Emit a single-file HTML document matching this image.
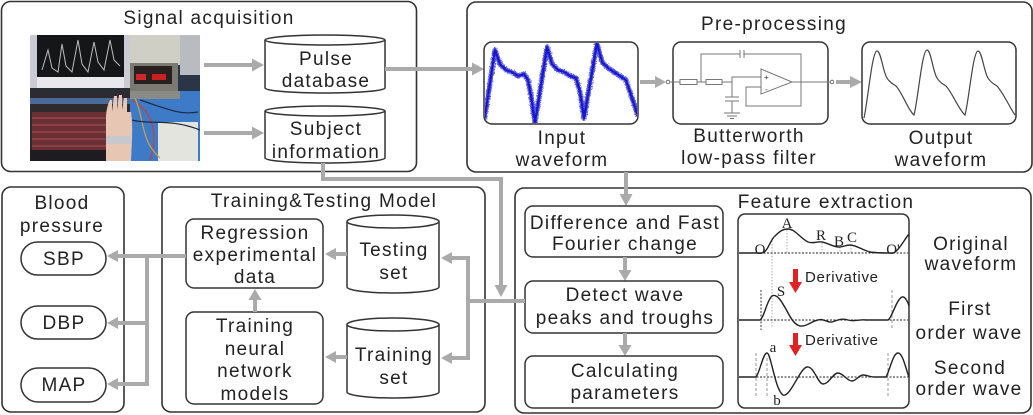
<!DOCTYPE html>
<html><head><meta charset="utf-8"><style>
html,body{margin:0;padding:0;background:#fff;}
svg{display:block;}
.t{font-family:"Liberation Sans",Arial,sans-serif;font-size:19px;letter-spacing:1.3px;fill:#222;text-anchor:middle;}
.s{font-family:"Liberation Serif","Times New Roman",serif;font-size:15px;fill:#222;text-anchor:middle;}
.d{font-family:"Liberation Sans",Arial,sans-serif;font-size:15px;letter-spacing:0.7px;fill:#222;}
.box{fill:none;stroke:#333;stroke-width:1.6;}
.ib{fill:#fff;stroke:#333;stroke-width:1.5;}
.g{stroke:#aaa;stroke-width:4;fill:none;}
.ga{fill:#aaa;}
.c{stroke:#777;stroke-width:1;fill:none;}
</style></head><body>
<svg width="1033" height="415" viewBox="0 0 1033 415" xmlns="http://www.w3.org/2000/svg">
<defs>
<filter id="noise" filterUnits="userSpaceOnUse" x="480" y="36" width="165" height="95">
<feTurbulence type="fractalNoise" baseFrequency="0.9" numOctaves="2" seed="3" result="n"/>
<feDisplacementMap in="SourceGraphic" in2="n" scale="4" xChannelSelector="R" yChannelSelector="G"/>
</filter>
<filter id="noise2" filterUnits="userSpaceOnUse" x="480" y="36" width="165" height="95">
<feTurbulence type="fractalNoise" baseFrequency="1.2" numOctaves="1" seed="7" result="n"/>
<feDisplacementMap in="SourceGraphic" in2="n" scale="3" xChannelSelector="R" yChannelSelector="G"/>
</filter>
<clipPath id="inclip"><rect x="485" y="43" width="152" height="80" rx="7"/></clipPath>
<clipPath id="phclip"><rect x="30" y="35" width="170" height="126"/></clipPath>
</defs>

<!-- ===== Main boxes ===== -->
<rect class="box" x="1.5" y="1.5" width="415" height="170" rx="9"/>
<rect class="box" x="467" y="2" width="565" height="170" rx="9"/>
<rect class="box" x="2" y="187" width="122" height="225" rx="9"/>
<rect class="box" x="162" y="187" width="323" height="225" rx="9"/>
<rect class="box" x="515" y="188" width="516" height="225" rx="9"/>

<!-- ===== Signal acquisition ===== -->
<text class="t" x="209" y="24">Signal acquisition</text>

<!-- photo -->
<g clip-path="url(#phclip)">
<rect x="30" y="35" width="170" height="126" fill="#2b3548"/>
<rect x="30" y="35" width="100" height="62" fill="#c9ccd4"/>
<rect x="37" y="35" width="87" height="42" fill="#151618"/>
<polyline points="42,70 48,50 52,68 58,72 62,44 66,66 72,72 78,40 82,64 88,72 94,42 98,62 104,70 110,40 114,60 120,66" fill="none" stroke="#bcbcbc" stroke-width="1"/>
<rect x="37" y="77" width="87" height="11" fill="#e8e8ec"/>
<rect x="30" y="88" width="100" height="7" fill="#2a2c34"/>
<rect x="30" y="95" width="102" height="66" fill="#2e2a2e"/>
<rect x="30" y="98" width="100" height="6" fill="#4a6a9a"/>
<rect x="32" y="112" width="74" height="38" fill="#6a3036"/>
<g stroke="#b05050" stroke-width="1">
<line x1="32" y1="118" x2="106" y2="118"/><line x1="32" y1="125" x2="106" y2="125"/>
<line x1="32" y1="132" x2="106" y2="132"/><line x1="32" y1="139" x2="106" y2="139"/>
<line x1="32" y1="146" x2="106" y2="146"/>
</g>
<rect x="30" y="150" width="76" height="11" fill="#1e1c20"/>
<rect x="130" y="35" width="50" height="30" fill="#cfcfc6"/>
<rect x="130" y="63" width="48" height="28" fill="#7a7a72"/>
<rect x="134" y="66" width="38" height="18" fill="#2a2020"/>
<rect x="136" y="74" width="10" height="6" fill="#d02828"/>
<rect x="152" y="74" width="14" height="6" fill="#c82020"/>
<rect x="180" y="35" width="20" height="40" fill="#b8bcc0"/>
<rect x="130" y="91" width="70" height="70" fill="#3d7ac8"/>
<rect x="130" y="91" width="50" height="8" fill="#8a8a86"/>
<rect x="158" y="122" width="40" height="39" fill="#e4e4de"/>
<g stroke-width="1.2" fill="none">
<path d="M132,100 C150,110 160,130 150,160" stroke="#c84030"/>
<path d="M135,98 C145,120 140,140 160,158" stroke="#d0a040"/>
<path d="M140,100 C170,110 180,115 198,112" stroke="#202a40"/>
<path d="M132,120 C150,125 170,118 200,130" stroke="#202a40"/>
</g>
<path d="M106,161 L106,118 C106,110 108,104 110,100 L112,100 L112,112 L114,96 L117,96 L117,110 L119,95 L122,95 L122,110 L124,98 L127,98 L127,112 L131,112 C133,125 132,140 131,161 Z" fill="#e8c6b4"/>
<rect x="106" y="136" width="25" height="8" fill="#c8c8cc"/>
</g>

<!-- arrows from photo -->
<line class="g" x1="204" y1="65" x2="252" y2="65"/>
<polygon class="ga" points="264,65 252,58.5 252,71.5"/>
<line class="g" x1="204" y1="133" x2="252" y2="133"/>
<polygon class="ga" points="264,133 252,126.5 252,139.5"/>

<!-- cylinders -->
<path class="ib" d="M265,40 L265,88 A60,5 0 0 0 385,88 L385,40"/>
<ellipse class="ib" cx="325" cy="40" rx="60" ry="5"/>
<text class="t" x="326" y="65">Pulse</text>
<text class="t" x="326" y="87">database</text>

<path class="ib" d="M265,111 L265,158 A60,5 0 0 0 385,158 L385,111"/>
<ellipse class="ib" cx="325" cy="111" rx="60" ry="5"/>
<text class="t" x="326" y="135">Subject</text>
<text class="t" x="326" y="158">information</text>

<!-- pulse db -> input -->
<line class="g" x1="385" y1="69" x2="472" y2="69"/>
<polygon class="ga" points="484,69 472,62.5 472,75.5"/>

<!-- subject info -> down connector -->
<polyline class="g" points="323,163 323,179 501,179 501,285"/>
<polygon class="ga" points="501,297 494.5,285 507.5,285"/>

<!-- ===== Pre-processing ===== -->
<text class="t" x="774" y="30">Pre-processing</text>

<rect class="ib" x="484" y="42" width="154" height="82" rx="8"/>
<g clip-path="url(#inclip)">
<g filter="url(#noise)">
<path d="M484,122 L495,50 L500,64 L506,70 L512,72 L518,76 L524,74 L528,80 L531,96 L535,123 L547,47 L552,64 L558,70 L564,72 L570,76 L576,78 L580,92 L584,118 L597,43 L602,62 L608,68 L614,72 L620,76 L626,80 L632,98 L638,116" fill="none" stroke="#5a5ae6" stroke-width="5" stroke-linejoin="round"/>
</g>
<g filter="url(#noise2)">
<path d="M484,122 L495,50 L500,64 L506,70 L512,72 L518,76 L524,74 L528,80 L531,96 L535,123 L547,47 L552,64 L558,70 L564,72 L570,76 L576,78 L580,92 L584,118 L597,43 L602,62 L608,68 L614,72 L620,76 L626,80 L632,98 L638,116" fill="none" stroke="#1414c8" stroke-width="2.2" stroke-linejoin="round"/>
</g>
</g>
<text class="t" x="562" y="144">Input</text>
<text class="t" x="562" y="166">waveform</text>

<line class="g" x1="640" y1="82" x2="655" y2="82"/>
<polygon class="ga" points="666,82 655,76 655,88"/>

<rect class="ib" x="673" y="42" width="155" height="82" rx="8"/>
<!-- circuit -->
<circle cx="668" cy="82" r="1.8" fill="#fff" stroke="#555" stroke-width="0.8"/>
<line class="c" x1="670" y1="82" x2="680" y2="82"/>
<rect class="c" x="680" y="79.5" width="17" height="5" fill="#fff"/>
<line class="c" x1="697" y1="82" x2="706" y2="82"/>
<rect class="c" x="706" y="79.5" width="16" height="5" fill="#fff"/>
<polyline class="c" points="722,82 732,82 732,77 761,77"/>
<line class="c" x1="732" y1="77" x2="732" y2="97"/>
<line class="c" x1="725" y1="97" x2="739" y2="97" stroke-width="1.6"/>
<line class="c" x1="725" y1="101" x2="739" y2="101" stroke-width="1.6"/>
<line class="c" x1="732" y1="101" x2="732" y2="113"/>
<line class="c" x1="724" y1="113" x2="740" y2="113"/>
<line class="c" x1="727" y1="116" x2="737" y2="116"/>
<line class="c" x1="730" y1="118.5" x2="734" y2="118.5"/>
<polyline class="c" points="701,82 701,54 740,54"/>
<line class="c" x1="740" y1="50" x2="740" y2="58" stroke-width="1.4"/>
<line class="c" x1="744" y1="50" x2="744" y2="58" stroke-width="1.4"/>
<polyline class="c" points="744,54 801,54 801,82"/>
<polygon class="c" points="761,69 761,94 792,82" fill="#fff"/>
<text x="764" y="80" font-family="Liberation Sans,Arial,sans-serif" font-size="8" fill="#333">+</text>
<text x="765" y="92" font-family="Liberation Sans,Arial,sans-serif" font-size="8" fill="#333">-</text>
<polyline class="c" points="761,87 746,87 746,106 801,106 801,82"/>
<line class="c" x1="792" y1="82" x2="830" y2="82"/>
<circle cx="832" cy="82" r="1.8" fill="#fff" stroke="#555" stroke-width="0.8"/>
<text class="t" x="749" y="142">Butterworth</text>
<text class="t" x="749" y="164">low-pass filter</text>

<line class="g" x1="836" y1="82" x2="850" y2="82"/>
<polygon class="ga" points="862,82 850,76 850,88"/>

<rect class="ib" x="862" y="42" width="154" height="82" rx="8"/>
<path d="M864,118 C868,100 872,51 877,51 C881,51 883,72 887,78 C890,83 893,84 896,86 C903,94 908,110 914,115 C918,100 922,50 927,50 C931,50 933,72 937,78 C940,83 943,84 946,86 C953,94 959,110 965,115 C969,100 973,51 978,51 C982,51 984,72 988,78 C991,83 994,84 997,86 C1004,94 1010,108 1015,115" fill="none" stroke="#444" stroke-width="1.2"/>
<text class="t" x="941" y="144">Output</text>
<text class="t" x="941" y="166">waveform</text>

<!-- down arrow to feature extraction -->
<line class="g" x1="626" y1="172" x2="626" y2="194"/>
<polygon class="ga" points="626,206 619.5,194 632.5,194"/>

<!-- ===== Feature extraction ===== -->
<text class="t" x="826" y="208">Feature extraction</text>

<rect class="ib" x="525" y="206" width="198" height="51" rx="8"/>
<text class="t" x="625" y="229">Difference and Fast</text>
<text class="t" x="625" y="250">Fourier change</text>
<line class="g" x1="625" y1="257" x2="625" y2="270"/>
<polygon class="ga" points="625,281 618.5,270 631.5,270"/>

<rect class="ib" x="525" y="281" width="198" height="52" rx="8"/>
<text class="t" x="625" y="301">Detect wave</text>
<text class="t" x="625" y="324">peaks and troughs</text>
<line class="g" x1="625" y1="333" x2="625" y2="345"/>
<polygon class="ga" points="625,356 618.5,345 631.5,345"/>

<rect class="ib" x="525" y="356" width="198" height="52" rx="8"/>
<text class="t" x="625" y="377">Calculating</text>
<text class="t" x="625" y="399">parameters</text>

<!-- waveform panel -->
<rect class="ib" x="738" y="214" width="171" height="194" rx="7"/>
<g stroke="#999" stroke-width="0.8" stroke-dasharray="1.5,1.5" fill="none">
<line x1="772" y1="238" x2="772" y2="328"/>
<line x1="787" y1="230" x2="787" y2="253"/>
<line x1="822" y1="243" x2="822" y2="253"/>
<line x1="840" y1="247" x2="840" y2="253"/>
<line x1="851" y1="245" x2="851" y2="253"/>
</g>
<g stroke="#222" stroke-width="0.9" stroke-dasharray="2,1.5" fill="none">
<line x1="739" y1="253" x2="908" y2="253"/>
<line x1="739" y1="320" x2="908" y2="320"/>
<line x1="739" y1="377" x2="908" y2="377"/>
<line x1="761" y1="290" x2="761" y2="330"/>
</g>
<g stroke="#999" stroke-width="1" stroke-dasharray="3,2" fill="none">
<line x1="892" y1="290" x2="892" y2="330"/>
<line x1="756" y1="353" x2="756" y2="397"/>
<line x1="767" y1="358" x2="767" y2="397"/>
<line x1="888" y1="353" x2="888" y2="397"/>
</g>
<g fill="none" stroke="#222" stroke-width="1.4">
<path d="M739,253 L762,253 C768,252 770,240 775,236 C780,231 783,229 788,229 C795,229 800,238 808,242 C814,244 818,241 822,242 C828,243 833,247 839,247 C843,247 846,245 850,245 C856,245 862,250 870,252 C876,253 885,253 893,253 C898,252 904,240 909,234"/>
<path d="M739,320 L760,320 C764,318 767,300 772,296 C777,293 782,302 787,311 C791,319 795,325 800,326 C806,327 812,321 818,320 C823,318 828,323 832,322 C838,320 842,318 848,320 C855,322 860,319 866,320 L888,320 C892,318 896,300 902,297 C905,296 908,302 909,306"/>
<path d="M739,377 L756,377 C760,372 763,353 767,353 C771,353 775,390 783,395 C790,398 800,368 807,367 C814,366 818,384 823,384 C829,384 833,373 838,373 C843,373 847,381 852,381 C856,381 859,375 863,375 C867,375 870,377 874,377 L886,377 C890,370 893,353 898,353 C903,353 906,370 909,377"/>
</g>
<text class="s" x="787" y="228">A</text>
<text class="s" x="821" y="240">R</text>
<text class="s" x="839" y="246">B</text>
<text class="s" x="852" y="242">C</text>
<text class="s" x="760" y="254">O</text>
<text class="s" x="893" y="254">O'</text>
<text class="s" x="781" y="296">S</text>
<text class="s" x="773" y="352">a</text>
<text class="s" x="777" y="405">b</text>

<rect x="793" y="269" width="5" height="14" fill="#e02222"/>
<polygon points="789,282 802,282 795.5,293" fill="#e02222"/>
<text class="d" x="805" y="282">Derivative</text>
<rect x="793" y="333" width="5" height="13" fill="#e02222"/>
<polygon points="789,345 802,345 795.5,356" fill="#e02222"/>
<text class="d" x="805" y="345">Derivative</text>

<text class="t" x="971" y="250">Original</text>
<text class="t" x="971" y="270">waveform</text>
<text class="t" x="970" y="315">First</text>
<text class="t" x="969" y="339">order wave</text>
<text class="t" x="970" y="374">Second</text>
<text class="t" x="969" y="395">order wave</text>

<!-- ===== Training & Testing ===== -->
<text class="t" x="324" y="207">Training&amp;Testing Model</text>

<rect class="ib" x="186" y="219" width="137" height="69" rx="8"/>
<text class="t" x="255" y="239">Regression</text>
<text class="t" x="255" y="261">experimental</text>
<text class="t" x="255" y="283">data</text>

<rect class="ib" x="186" y="312" width="137" height="92" rx="8"/>
<text class="t" x="255" y="332">Training</text>
<text class="t" x="255" y="355">neural</text>
<text class="t" x="255" y="377">network</text>
<text class="t" x="255" y="400">models</text>

<line class="g" x1="255" y1="312" x2="255" y2="300"/>
<polygon class="ga" points="255,289 248.5,300 261.5,300"/>

<path class="ib" d="M347,221.5 L347,287 A46,6 0 0 0 439,287 L439,221.5"/>
<ellipse class="ib" cx="393" cy="221.5" rx="46" ry="6.5"/>
<text class="t" x="394" y="256">Testing</text>
<text class="t" x="394" y="279">set</text>

<path class="ib" d="M347,324.5 L347,392 A46,6 0 0 0 439,392 L439,324.5"/>
<ellipse class="ib" cx="393" cy="324.5" rx="46" ry="6.5"/>
<text class="t" x="394" y="361">Training</text>
<text class="t" x="394" y="384">set</text>

<line class="g" x1="347" y1="254" x2="336" y2="254"/>
<polygon class="ga" points="325,254 336,248 336,260"/>
<line class="g" x1="347" y1="357" x2="336" y2="357"/>
<polygon class="ga" points="325,357 336,351 336,363"/>

<!-- feature -> training/testing -->
<line class="g" x1="525" y1="301" x2="466" y2="301"/>
<line class="g" x1="468" y1="256" x2="468" y2="360"/>
<line class="g" x1="470" y1="258" x2="452" y2="258"/>
<polygon class="ga" points="441,258 452,252 452,264"/>
<line class="g" x1="470" y1="358" x2="452" y2="358"/>
<polygon class="ga" points="441,358 452,352 452,364"/>

<!-- ===== Blood pressure ===== -->
<text class="t" x="62" y="209">Blood</text>
<text class="t" x="62" y="232">pressure</text>
<rect class="ib" x="21" y="242" width="85" height="33" rx="16.5"/>
<text class="t" x="64" y="265">SBP</text>
<rect class="ib" x="21" y="306" width="85" height="33" rx="16.5"/>
<text class="t" x="64" y="329">DBP</text>
<rect class="ib" x="21" y="368" width="85" height="34" rx="17"/>
<text class="t" x="64" y="391">MAP</text>

<line class="g" x1="186" y1="256" x2="118" y2="256"/>
<polygon class="ga" points="107,256 118,250 118,262"/>
<line class="g" x1="147" y1="254" x2="147" y2="386"/>
<line class="g" x1="149" y1="323" x2="118" y2="323"/>
<polygon class="ga" points="107,323 118,317 118,329"/>
<line class="g" x1="149" y1="384" x2="118" y2="384"/>
<polygon class="ga" points="107,384 118,378 118,390"/>
</svg>
</body></html>
